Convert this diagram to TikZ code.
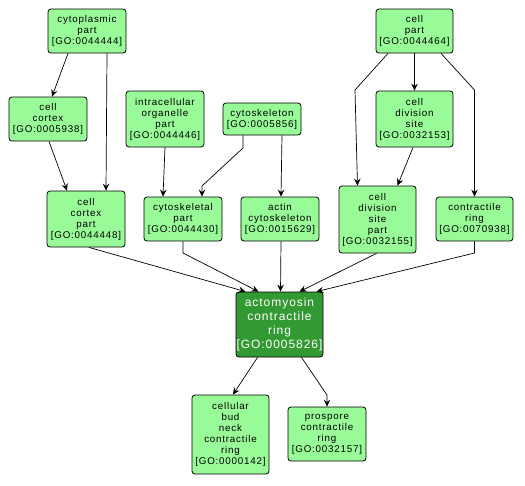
\documentclass[tikz,border=0pt]{standalone}
\usepackage{fontspec}
\setmainfont{Liberation Sans}
\newfontfamily\labfont[LetterSpace=8]{Liberation Sans}
\usetikzlibrary{arrows.meta,calc}
\definecolor{lgreen}{HTML}{98FB98}
\definecolor{dgreen}{HTML}{339933}
\begin{document}
\begin{tikzpicture}[x=1pt,y=-1pt,
  gobox/.style={rectangle,rounded corners=3pt,draw=black,fill=lgreen,line width=0.8pt,
    align=center,inner sep=0pt,font=\labfont\fontsize{9.8}{11}\selectfont,minimum width=78pt},
  gomain/.style={gobox,fill=dgreen,text=white,font=\labfont\fontsize{12}{14}\selectfont},
  arr/.style={draw=black,line width=0.7pt,-{Stealth[length=7pt,width=6.5pt,inset=2.5pt]}}]
\useasboundingbox (0,0) rectangle (525,485);
% nodes
\node[gobox,minimum height=44pt] (cp) at (87,31) {cytoplasmic\\part\\{[GO:0044444]}};
\node[gobox,minimum height=44pt] (cc) at (48,119) {cell\\cortex\\{[GO:0005938]}};
\node[gobox,minimum height=56pt] (ccp) at (86,219) {cell\\cortex\\part\\{[GO:0044448]}};
\node[gobox,minimum height=56pt] (iop) at (165,119) {intracellular\\organelle\\part\\{[GO:0044446]}};
\node[gobox,minimum height=32pt] (csk) at (262,119) {cytoskeleton\\{[GO:0005856]}};
\node[gobox,minimum height=44pt] (cskp) at (183,219) {cytoskeletal\\part\\{[GO:0044430]}};
\node[gobox,minimum height=44pt] (act) at (280,219) {actin\\cytoskeleton\\{[GO:0015629]}};
\node[gobox,minimum width=77pt,minimum height=44pt] (cpart) at (414.5,31) {cell\\part\\{[GO:0044464]}};
\node[gobox,minimum width=77pt,minimum height=56pt] (cds) at (414.5,119) {cell\\division\\site\\{[GO:0032153]}};
\node[gobox,minimum width=77pt,minimum height=67pt] (cdsp) at (377.5,219.5) {cell\\division\\site\\part\\{[GO:0032155]}};
\node[gobox,minimum width=77pt,minimum height=44pt] (cr) at (474.5,219) {contractile\\ring\\{[GO:0070938]}};
\node[gomain,minimum width=87pt,minimum height=65pt] (am) at (279.5,324.5) {actomyosin\\contractile\\ring\\{[GO:0005826]}};
\node[gobox,minimum width=77pt,minimum height=79pt] (bud) at (230.5,434.5) {cellular\\bud\\neck\\contractile\\ring\\{[GO:0000142]}};
\node[gobox,minimum height=54pt] (pro) at (327,434) {prospore\\contractile\\ring\\{[GO:0032157]}};
% edges
\draw[arr] ([xshift=-19pt]cp.south) -- ([xshift=4pt]cc.north);
\draw[arr] ([xshift=20pt]cp.south) -- ([xshift=20pt]ccp.north);
\draw[arr] ([xshift=1pt]cc.south) -- ([xshift=-19pt]ccp.north);
\draw[arr] (iop.south) -- ([xshift=-20pt]cskp.north);
\draw[arr] ([xshift=-19pt]csk.south) -- (243,148) -- (202,186) -- ([xshift=19pt]cskp.north);
\draw[arr] ([xshift=20pt]csk.south) -- ([xshift=1pt]act.north);
\draw[arr] ([xshift=-26.5pt]cpart.south) -- (355,90) -- ([xshift=-20pt]cdsp.north);
\draw[arr] (cpart.south) -- (cds.north);
\draw[arr] ([xshift=26.5pt]cpart.south) -- (474.5,90) -- (cr.north);
\draw[arr] ([xshift=-1.5pt]cds.south) -- ([xshift=20pt]cdsp.north);
\draw[arr] ([xshift=3pt]ccp.south) -- ([xshift=-34pt]am.north);
\draw[arr] (cskp.south) -- (183,253) -- ([xshift=-21pt]am.north);
\draw[arr] ([xshift=1pt]act.south) -- ([xshift=1pt]am.north);
\draw[arr] ([xshift=-1pt]cdsp.south) -- ([xshift=20pt]am.north);
\draw[arr] (cr.south) -- (474.5,253) -- ([xshift=37pt]am.north);
\draw[arr] ([xshift=-22pt]am.south) -- ([xshift=2.5pt]bud.north);
\draw[arr] ([xshift=22pt]am.south) -- (327,395) -- (pro.north);
\end{tikzpicture}
\end{document}
